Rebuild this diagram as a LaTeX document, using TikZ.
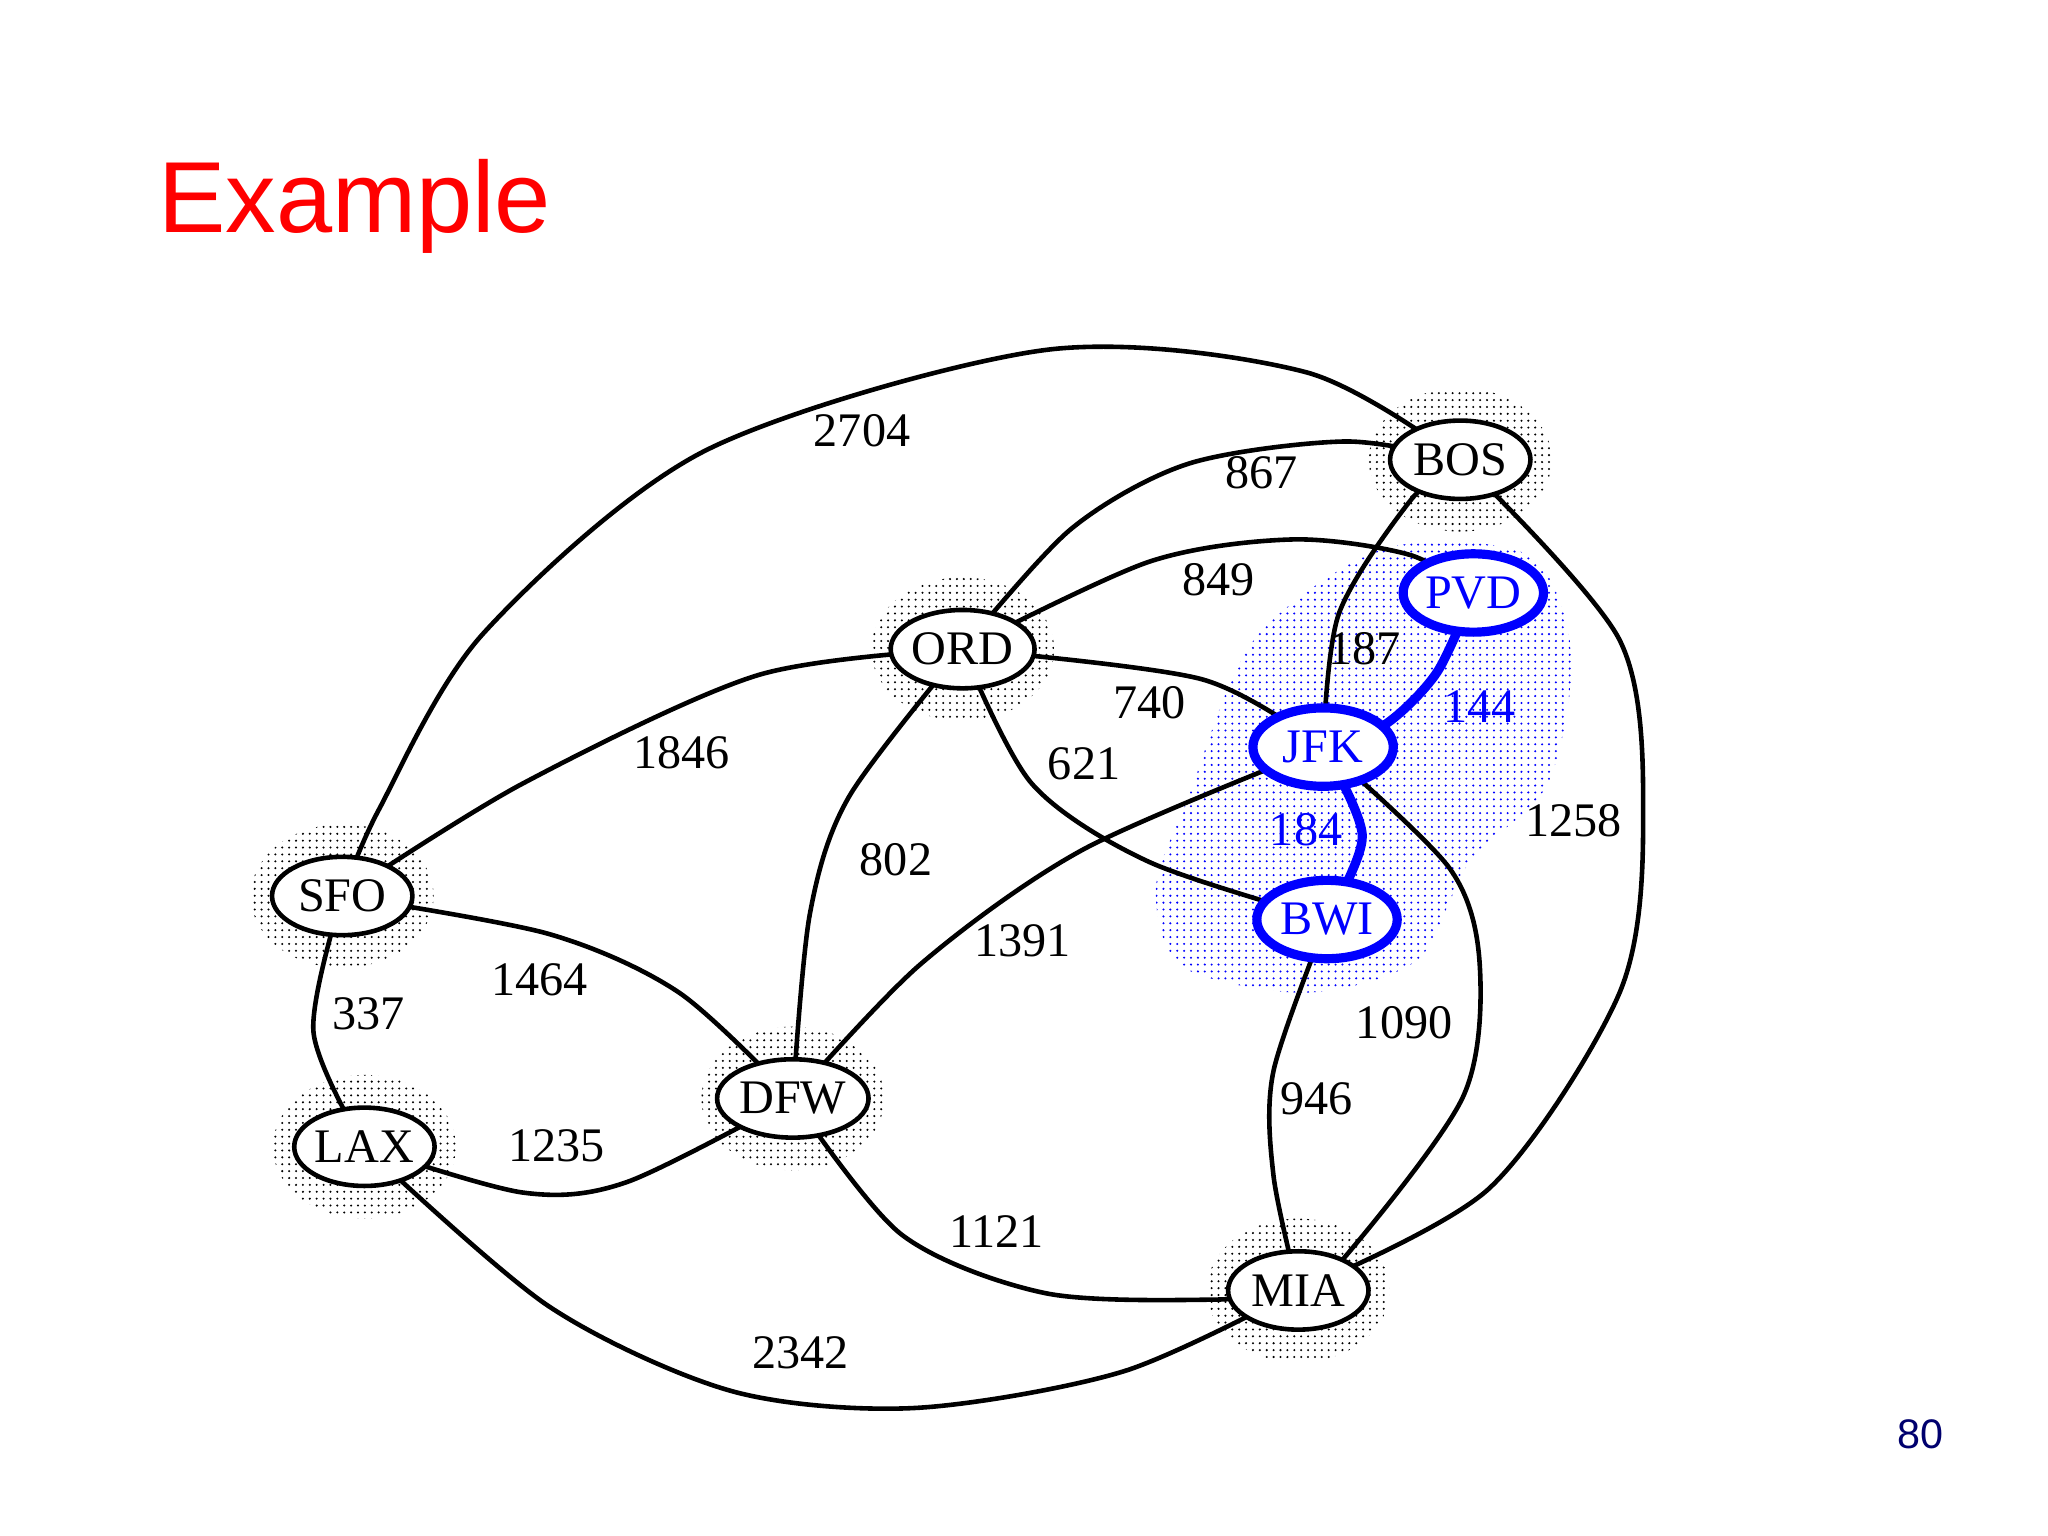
\documentclass[tikz,border=0pt]{standalone}
\usepackage{fontspec}
\setmainfont{Liberation Serif}
\newfontfamily\arialf{Liberation Sans}
\usetikzlibrary{shapes.geometric,patterns}
\pgfdeclarelayer{bg}\pgfdeclarelayer{halo}\pgfdeclarelayer{edges}
\pgfsetlayers{bg,halo,edges,main}
\definecolor{navyc}{RGB}{0,0,110}
\tikzset{
 city/.style={ellipse,draw,line width=2pt,fill=white,inner sep=0pt,minimum width=2.15cm,minimum height=1.2cm,font=\fontsize{21}{24}\selectfont},
 bcity/.style={city,draw=blue,line width=4pt,text=blue},
 haloe/.style={ellipse,pattern=dots,minimum width=2.8cm,minimum height=2.2cm},
 edge/.style={line width=2pt},
 bedge/.style={line width=4pt,blue},
 lbl/.style={font=\fontsize{21}{24}\selectfont},
 blbl/.style={lbl,text=blue}
}
\begin{document}
\begin{tikzpicture}[x=0.02cm,y=-0.02cm]
\useasboundingbox (0,0) rectangle (1568,1176);
\begin{pgfonlayer}{bg}
\fill[white] (0,0) rectangle (1568,1176);
\end{pgfonlayer}
\node[anchor=west,text=red,font=\arialf\fontsize{44}{48}\selectfont] (title) at (115,158) {Example};
\node[text=navyc,font=\arialf\fontsize{18}{20}\selectfont] (pg) at (1470,1098) {80};
\node[city] (BOS) at (1118,352) {BOS};
\node[bcity] (PVD) at (1128,454) {PVD};
\node[city] (ORD) at (737,497) {ORD};
\node[bcity] (JFK) at (1013,572) {JFK};
\node[city] (SFO) at (262,686) {SFO};
\node[bcity] (BWI) at (1016,704) {BWI};
\node[city] (DFW) at (607,841) {DFW};
\node[city] (LAX) at (279,878) {LAX};
\node[city] (MIA) at (994,988) {MIA};
\begin{pgfonlayer}{halo}
\foreach \n in {BOS,ORD,SFO,DFW,LAX,MIA} \node[haloe] at (\n) {};
\fill[pattern=dots,pattern color=blue] plot[smooth cycle] coordinates {(960,490) (1060,420) (1170,425) (1203,500) (1185,600) (1125,660) (1085,735) (1000,760) (905,740) (885,680) (910,610)};
\end{pgfonlayer}
\begin{pgfonlayer}{edges}
\draw[edge] plot[smooth] coordinates {(SFO) (290,620) (370,485) (540,345) (800,268) (1000,285) (BOS)};
\draw[edge] plot[smooth] coordinates {(ORD) (820,405) (910,355) (1030,338) (BOS)};
\draw[edge] plot[smooth] coordinates {(ORD) (880,430) (990,413) (1080,425) (PVD)};
\draw[edge] plot[smooth] coordinates {(JFK) (1025,470) (1080,383) (BOS)};
\draw[bedge] plot[smooth] coordinates {(PVD) (1100,515) (1060,555) (JFK)};
\draw[edge] plot[smooth] coordinates {(ORD) (920,520) (JFK)};
\draw[edge] plot[smooth] coordinates {(ORD) (790,600) (880,660) (BWI)};
\draw[edge] plot[smooth] coordinates {(SFO) (400,600) (580,517) (ORD)};
\draw[bedge] plot[smooth] coordinates {(JFK) (1043,640) (BWI)};
\draw[edge] plot[smooth] coordinates {(JFK) (830,650) (705,738) (DFW)};
\draw[edge] plot[smooth] coordinates {(ORD) (650,610) (620,700) (DFW)};
\draw[edge] plot[smooth] coordinates {(SFO) (420,715) (520,760) (DFW)};
\draw[edge] plot[smooth] coordinates {(SFO) (240,790) (LAX)};
\draw[edge] plot[smooth] coordinates {(LAX) (400,913) (480,905) (DFW)};
\draw[edge] plot[smooth] coordinates {(LAX) (420,1000) (560,1065) (700,1078) (860,1050) (MIA)};
\draw[edge] plot[smooth] coordinates {(DFW) (690,945) (800,990) (930,995) (MIA)};
\draw[edge] plot[smooth] coordinates {(BWI) (975,820) (975,900) (MIA)};
\draw[edge] plot[smooth] coordinates {(JFK) (1110,665) (1133,740) (1120,840) (1030,962) (MIA)};
\draw[edge] plot[smooth] coordinates {(BOS) (1240,490) (1258,630) (1240,760) (1140,910) (MIA)};
\end{pgfonlayer}
\node[lbl] (l1) at (660,330) {2704};
\node[lbl] (l2) at (966,362) {867};
\node[lbl] (l3) at (933,444) {849};
\node[lbl] (l4) at (1045,497) {187};
\node[blbl] (l5) at (1133,541) {144};
\node[lbl] (l6) at (880,538) {740};
\node[lbl] (l7) at (830,585) {621};
\node[lbl] (l8) at (522,576) {1846};
\node[blbl] (l9) at (1000,635) {184};
\node[lbl] (l10) at (783,720) {1391};
\node[lbl] (l11) at (686,658) {802};
\node[lbl] (l12) at (413,750) {1464};
\node[lbl] (l13) at (282,776) {337};
\node[lbl] (l14) at (426,877) {1235};
\node[lbl] (l15) at (613,1036) {2342};
\node[lbl] (l16) at (763,943) {1121};
\node[lbl] (l17) at (1008,841) {946};
\node[lbl] (l18) at (1075,783) {1090};
\node[lbl] (l19) at (1205,628) {1258};
\end{tikzpicture}
\end{document}
